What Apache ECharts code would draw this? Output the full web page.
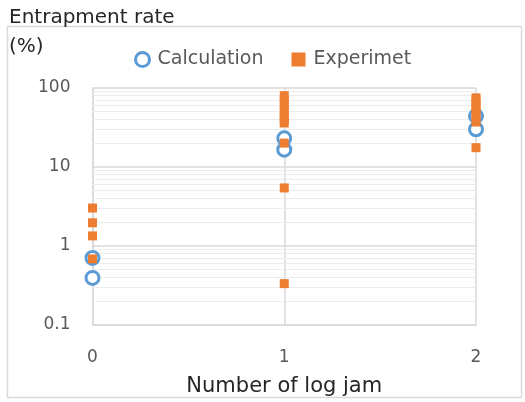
<!DOCTYPE html>
<html><head><meta charset="utf-8">
<script src="https://cdn.jsdelivr.net/npm/echarts@6/dist/echarts.min.js"></script>
<style>html,body{margin:0;padding:0;background:#fff}#c{width:525px;height:402px}</style>
</head><body><div id="c"></div>
<script>
const xTicks = [0, 1, 2];
const yTicks = [0.1, 1, 10, 100];
const minorGrid = [0.2,0.3,0.4,0.5,0.6,0.7,0.8,0.9,2,3,4,5,6,7,8,9,20,30,40,50,60,70,80,90];
const calcX = [0, 0, 1, 1, 2, 2];
const calcY = [0.70, 0.39, 23, 16.5, 44, 30];
const expX = [0, 0, 0, 0, 1, 1, 1, 1, 1, 1, 1, 1, 1, 1, 2, 2, 2, 2, 2, 2, 2, 2];
const expY = [3.0, 1.95, 1.33, 0.68, 80, 70, 60, 52, 45, 40, 36, 20, 5.4, 0.33, 75, 68, 60, 55, 48, 42, 37, 17.5];

const font = "'DejaVu Sans', sans-serif";
const chart = echarts.init(document.getElementById('c'), null, {renderer: 'canvas'});
chart.setOption({
  animation: false,
  textStyle: {fontFamily: font},
  graphic: [
    {type: 'rect', shape: {x: 7.5, y: 26.5, width: 514, height: 371}, style: {fill: 'none', stroke: '#d9d9d9', lineWidth: 1.5}, z: -10},
    {type: 'text', left: 9, top: 8, style: {text: 'Entrapment rate', font: "20px " + font, fill: '#262626'}},
    {type: 'text', left: 9, top: 37, style: {text: '(%)', font: "20px " + font, fill: '#262626'}}
  ],
  legend: {
    top: 45, left: 129, itemGap: 28, itemWidth: 14, itemHeight: 14,
    textStyle: {fontSize: 19, color: '#595959', fontFamily: font, padding: [0, 0, 0, 3]},
    data: [
      {name: 'Calculation', icon: 'circle', itemStyle: {color: '#fff', borderColor: '#5b9bd5', borderWidth: 3}},
      {name: 'Experimet', icon: 'rect', itemStyle: {color: '#ed7d31', borderWidth: 0}}
    ]
  },
  grid: {left: 92.5, right: 49, top: 88, bottom: 77.5, containLabel: false, outerBoundsMode: 'none'},
  xAxis: {
    type: 'value', min: 0, max: 2, interval: 1,
    name: 'Number of log jam', nameLocation: 'middle', nameGap: 52,
    nameTextStyle: {fontSize: 21, color: '#262626', fontFamily: font},
    axisLine: {show: true, onZero: false, lineStyle: {color: '#d9d9d9', width: 1.5}},
    axisTick: {show: false},
    axisLabel: {fontSize: 17, color: '#595959', margin: 25, fontFamily: font},
    splitLine: {show: true, lineStyle: {color: '#d9d9d9', width: 1.5}}
  },
  yAxis: {
    type: 'log', logBase: 10, min: 0.1, max: 100,
    axisLine: {show: true, lineStyle: {color: '#d9d9d9', width: 1.5}},
    axisTick: {show: false},
    axisLabel: {fontSize: 17, color: '#595959', margin: 22, fontFamily: font,
      formatter: v => String(+v.toPrecision(3))},
    splitLine: {show: true, lineStyle: {color: '#d9d9d9', width: 1.5}}
  },
  series: [
    {
      name: 'Calculation', type: 'scatter', symbol: 'circle', symbolSize: 13,
      itemStyle: {color: '#fff', borderColor: '#5b9bd5', borderWidth: 3, opacity: 1},
      data: calcX.map((x, i) => [x, calcY[i]]), z: 3,
      markLine: {
        silent: true, symbol: 'none', label: {show: false},
        lineStyle: {color: '#ececec', width: 1, type: 'solid'},
        data: minorGrid.map(v => ({yAxis: v})), z: 1
      }
    },
    {
      name: 'Experimet', type: 'scatter', symbol: 'rect', symbolSize: 9,
      itemStyle: {color: '#ed7d31', opacity: 1},
      data: expX.map((x, i) => [x, expY[i]]), z: 4
    }
  ]
});
</script></body></html>
